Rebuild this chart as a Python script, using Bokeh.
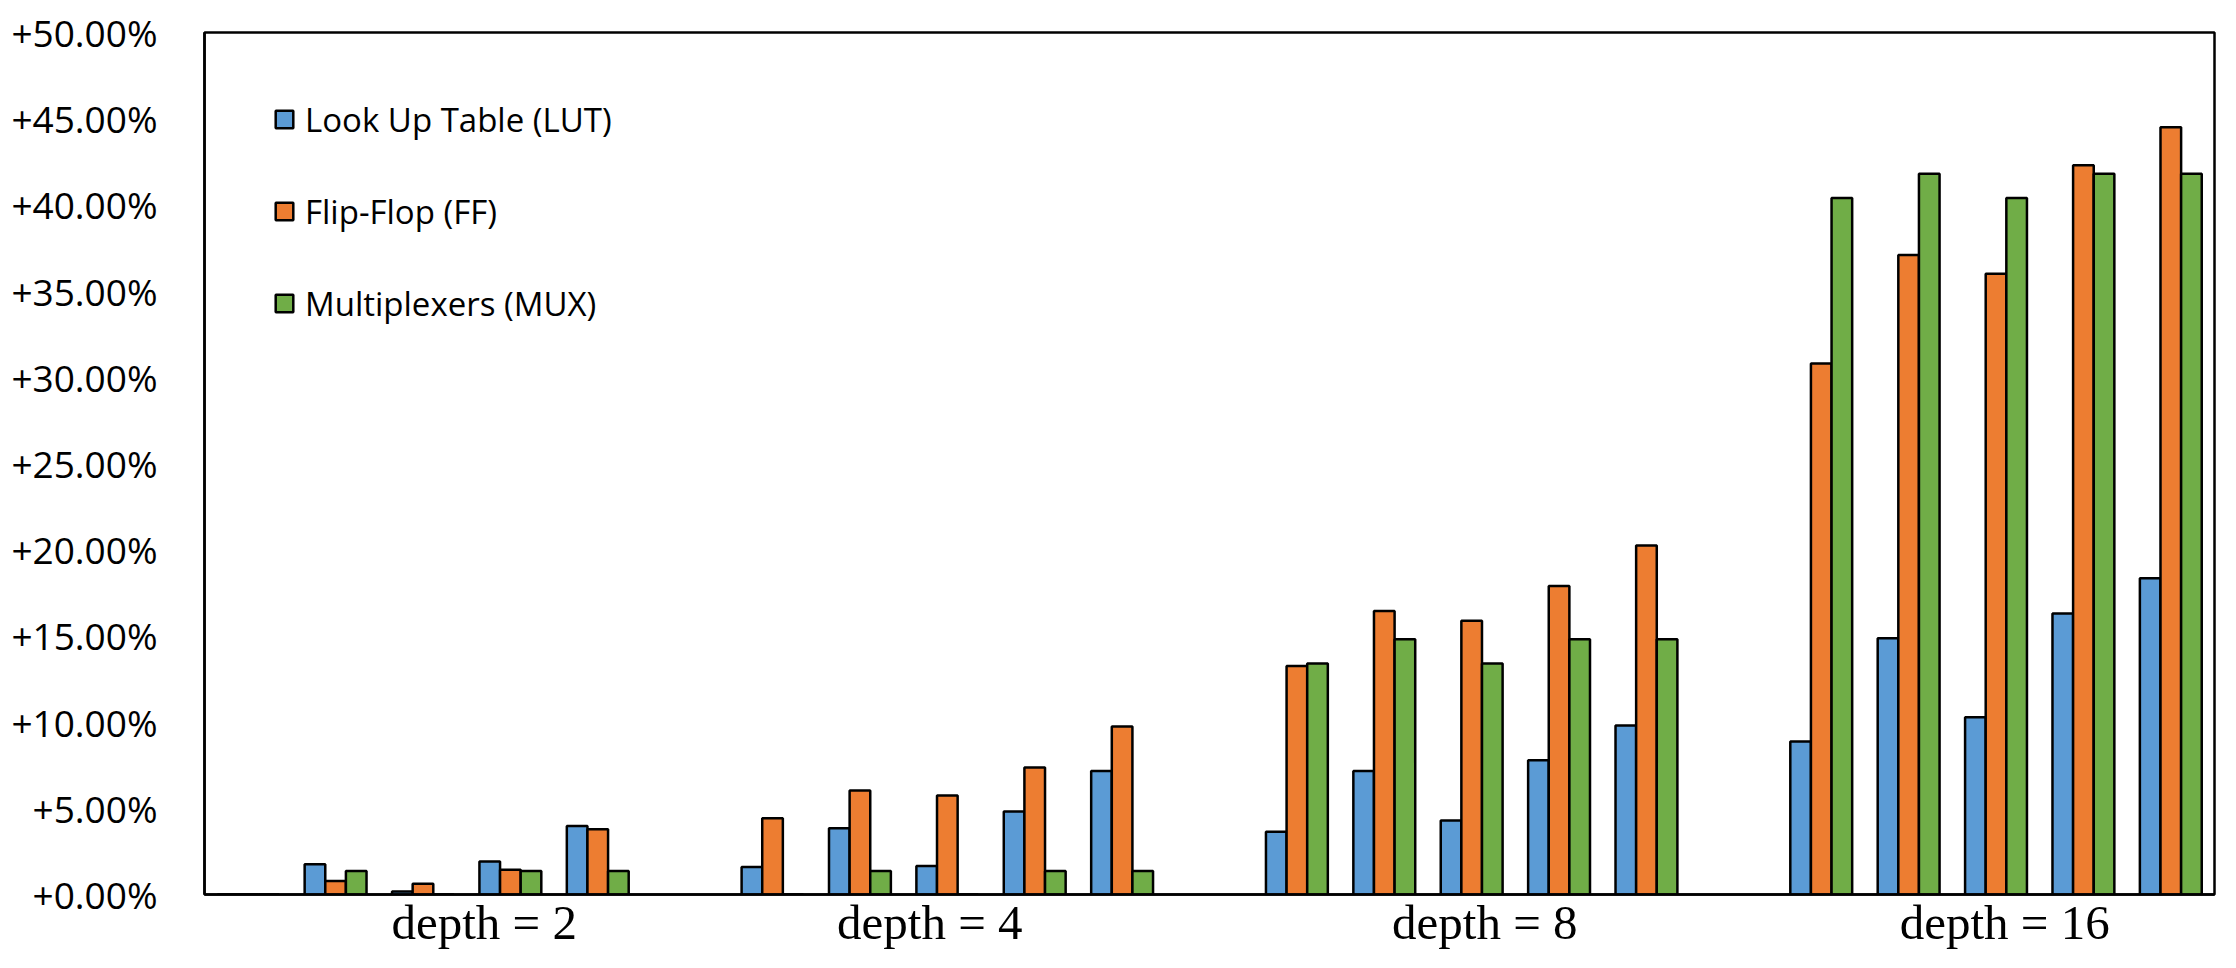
from bokeh.plotting import figure
from bokeh.models import FixedTicker, Legend, LegendItem, Range1d, ColumnDataSource
from bokeh.embed import file_html
from bokeh.resources import INLINE

# ---- data (percent increase) ----
depths = ["depth = 2", "depth = 4", "depth = 8", "depth = 16"]
series = ["Look Up Table (LUT)", "Flip-Flop (FF)", "Multiplexers (MUX)"]
colors = ["#5B9BD5", "#ED7D31", "#70AD47"]

lut = [0.0, 1.76, 0.17, 1.91, 3.98,
       1.60, 3.85, 1.66, 4.81, 7.17,
       3.64, 7.16, 4.29, 7.78, 9.81,
       8.87, 14.86, 10.28, 16.30, 18.35]
ff = [0.0, 0.79, 0.62, 1.43, 3.79,
      4.43, 6.03, 5.74, 7.37, 9.74,
      13.25, 16.44, 15.88, 17.89, 20.25,
      30.8, 37.1, 36.0, 42.3, 44.5]
mux = [0.0, 1.37, 0.0, 1.37, 1.37,
       0.0, 1.37, 0.0, 1.37, 1.37,
       13.40, 14.80, 13.40, 14.80, 14.80,
       40.4, 41.8, 40.4, 41.8, 41.8]

y_ticks = [0, 5, 10, 15, 20, 25, 30, 35, 40, 45, 50]
y_tick_labels = ["+%.2f%%" % t for t in y_ticks]

configs_per_depth = 5
slots_per_group = configs_per_depth + 1  # one empty slot between groups
label_pos = [3.2, 8.3, 14.65, 20.6]      # where the group labels sit (slot units)

xs = []
for g in range(len(depths)):
    for k in range(configs_per_depth):
        xs.append(g * slots_per_group + k + 0.5)

n_slots = len(depths) * slots_per_group - 1

p = figure(width=2220, height=952, output_backend="svg", toolbar_location=None,
           x_range=Range1d(0, n_slots), y_range=Range1d(0, 50),
           min_border_left=204, min_border_right=6, min_border_top=32,
           min_border_bottom=57)

bw = 0.236
renderers = []
for i, (vals, col) in enumerate(zip([lut, ff, mux], colors)):
    src = ColumnDataSource(dict(x=[x + (i - 1) * bw for x in xs], top=vals))
    r = p.vbar(x="x", top="top", bottom=0, width=bw, source=src,
               fill_color=col, line_color="black", line_width=2.5)
    renderers.append(r)

p.xgrid.visible = False
p.ygrid.visible = False
p.outline_line_color = "black"
p.outline_line_width = 2.5
p.background_fill_color = "white"
p.border_fill_color = "white"

# y axis
p.yaxis.ticker = FixedTicker(ticks=y_ticks)
p.yaxis.major_label_overrides = {t: l for t, l in zip(y_ticks, y_tick_labels)}
p.yaxis.major_label_text_font = "Open Sans"
p.yaxis.major_label_text_font_size = "37px"
p.yaxis.major_label_text_color = "black"
p.yaxis.major_label_standoff = 41
p.yaxis.major_tick_line_color = None
p.yaxis.minor_tick_line_color = None
p.yaxis.axis_line_color = "black"
p.yaxis.axis_line_width = 2.5

# x axis with group labels
p.xaxis.ticker = FixedTicker(ticks=label_pos)
p.xaxis.major_label_overrides = {t: l for t, l in zip(label_pos, depths)}
p.xaxis.major_label_text_font = "Liberation Serif"
p.xaxis.major_label_text_font_size = "49px"
p.xaxis.major_label_text_color = "black"
p.xaxis.major_label_standoff = 0
p.xaxis.major_tick_out = 0
p.xaxis.major_tick_in = 0
p.xaxis.major_tick_line_color = None
p.xaxis.minor_tick_line_color = None
p.xaxis.axis_line_color = "black"
p.xaxis.axis_line_width = 2.5

legend = Legend(items=[LegendItem(label=s, renderers=[r]) for s, r in zip(series, renderers)],
                location=(69, 568), orientation="vertical",
                border_line_color=None, background_fill_alpha=0,
                label_text_font="Open Sans", label_text_font_size="33px",
                label_text_color="black",
                glyph_width=22, glyph_height=22, label_height=46,
                label_standoff=10, spacing=46, padding=0, margin=0)
p.add_layout(legend)

open("out.html", "w").write(file_html(p, INLINE))
